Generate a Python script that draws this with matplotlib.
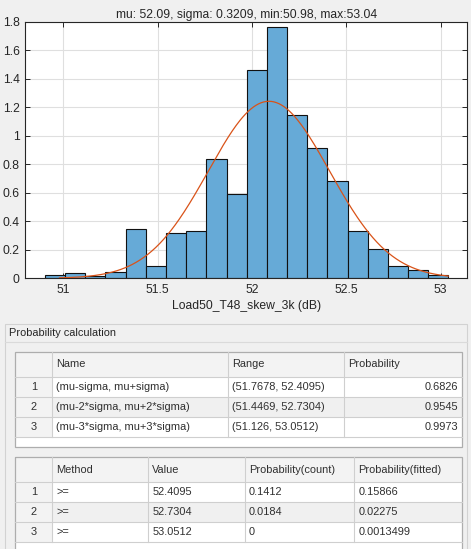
import numpy as np
import matplotlib
matplotlib.use("Agg")
import matplotlib.pyplot as plt
from matplotlib.patches import Rectangle

# ---------------- data ----------------
mu = 52.09
sigma = 0.3209
data_min = 50.98
data_max = 53.04
bin_start = 50.903
bin_width = 0.1069
bin_heights = [0.026, 0.038, 0.014, 0.042, 0.345, 0.089, 0.315, 0.329, 0.836, 0.594,
               1.466, 1.762, 1.148, 0.915, 0.683, 0.333, 0.207, 0.085, 0.056, 0.026]
x_ticks = [51, 51.5, 52, 52.5, 53]
x_tick_labels = ["51", "51.5", "52", "52.5", "53"]
y_ticks = [0, 0.2, 0.4, 0.6, 0.8, 1.0, 1.2, 1.4, 1.6, 1.8]
y_tick_labels = ["0", "0.2", "0.4", "0.6", "0.8", "1", "1.2", "1.4", "1.6", "1.8"]
title_text = "mu: 52.09, sigma: 0.3209, min:50.98, max:53.04"
x_label = "Load50_T48_skew_3k (dB)"

panel_title = "Probability calculation"
t1_headers = ["", "Name", "Range", "Probability"]
t1_index = ["1", "2", "3"]
t1_names = ["(mu-sigma, mu+sigma)", "(mu-2*sigma, mu+2*sigma)", "(mu-3*sigma, mu+3*sigma)"]
t1_ranges = ["(51.7678, 52.4095)", "(51.4469, 52.7304)", "(51.126, 53.0512)"]
t1_probs = ["0.6826", "0.9545", "0.9973"]

t2_headers = ["", "Method", "Value", "Probability(count)", "Probability(fitted)"]
t2_index = ["1", "2", "3"]
t2_methods = [">=", ">=", ">="]
t2_values = ["52.4095", "52.7304", "53.0512"]
t2_pcount = ["0.1412", "0.0184", "0"]
t2_pfitted = ["0.15866", "0.02275", "0.0013499"]

# ---------------- style ----------------
plt.rcParams['font.family'] = ['Liberation Sans', 'DejaVu Sans']
W, H = 471, 549
fig = plt.figure(figsize=(W / 100, H / 100), dpi=100)
fig.patch.set_facecolor('#F0F0F0')

bar_face = '#66AAD7'
line_col = '#D95319'
axis_col = '#262626'
afs = 8.7

# ---------------- histogram axes ----------------
ax_l, ax_r, ax_t, ax_b = 25.3, 467.3, 22.0, 278.3
ax = fig.add_axes([ax_l / W, 1 - ax_b / H, (ax_r - ax_l) / W, (ax_b - ax_t) / H])
ax.set_facecolor('white')
lefts = [bin_start + i * bin_width for i in range(len(bin_heights))]
ax.bar(lefts, bin_heights, width=bin_width, align='edge', color=bar_face,
       edgecolor='#111111', linewidth=0.8, zorder=2)
xs = np.linspace(data_min, data_max, 300)
pdf = np.exp(-0.5 * ((xs - mu) / sigma) ** 2) / (sigma * np.sqrt(2 * np.pi))
ax.plot(xs, pdf, color=line_col, linewidth=0.9, zorder=3)

ax.set_xlim(50.799, 53.141)
ax.set_ylim(0, 1.8)
ax.set_xticks(x_ticks)
ax.set_xticklabels(x_tick_labels)
ax.set_yticks(y_ticks)
ax.set_yticklabels(y_tick_labels)
ax.grid(True, color='#DFDFDF', linewidth=0.8, zorder=0)
ax.set_axisbelow(True)
ax.tick_params(direction='in', length=3.5, width=0.7, colors=axis_col,
               labelsize=afs, top=True, right=True, pad=4, labelcolor='#262626')
for s in ax.spines.values():
    s.set_color(axis_col)
    s.set_linewidth(0.8)
ax.set_title(title_text, fontsize=afs, color='#262626', pad=3)
ax.set_xlabel(x_label, fontsize=afs, color='#262626', labelpad=3)

# ---------------- panel with tables ----------------
ov = fig.add_axes([0, 0, 1, 1], zorder=-1)
ov.set_xlim(0, W)
ov.set_ylim(H, 0)
ov.axis('off')

fs = 7.9
ov.add_patch(Rectangle((5.3, 324), 466.7 - 5.3, H + 10 - 324, facecolor='#F0F0F0',
                       edgecolor='#D2D2D2', linewidth=0.8))
ov.plot([5.3, 466.7], [341.7, 341.7], color='#DADADA', linewidth=0.8)
ov.text(9.3, 333, panel_title, fontsize=fs, va='center', ha='left', color='#262626')

grid_col = '#CFCFCF'
text_col = '#303030'


def draw_table(cols, top, header_h, row_h, n_rows, bottom, headers, columns, aligns):
    x0, x1 = cols[0], cols[-1]
    ov.add_patch(Rectangle((x0, top), x1 - x0, bottom - top, facecolor='white',
                           edgecolor='none'))
    ov.add_patch(Rectangle((x0, top), x1 - x0, header_h, facecolor='#F3F3F3',
                           edgecolor='none'))
    y = top + header_h
    row_edges = [y]
    for r in range(n_rows):
        if r % 2 == 1:
            ov.add_patch(Rectangle((x0, y), x1 - x0, row_h[r], facecolor='#F0F0F0',
                                   edgecolor='none'))
        y += row_h[r]
        row_edges.append(y)
    ov.add_patch(Rectangle((x0, top), cols[1] - x0, row_edges[-1] - top,
                           facecolor='#F3F3F3', edgecolor='none'))
    ov.plot([x0, x1], [top + header_h] * 2, color=grid_col, lw=0.8)
    for ye in row_edges[1:]:
        ov.plot([x0, x1], [ye, ye], color=grid_col, lw=0.8)
    for xc in cols[1:-1]:
        ov.plot([xc, xc], [top, row_edges[-1]], color=grid_col, lw=0.8)
    ov.add_patch(Rectangle((x0, top), x1 - x0, bottom - top, facecolor='none',
                           edgecolor='#ADADAD', linewidth=0.9))
    for c, htxt in enumerate(headers):
        if htxt:
            ov.text(cols[c] + 4, top + header_h / 2, htxt, fontsize=fs, va='center',
                    ha='left', color=text_col)
    for r in range(n_rows):
        yc = (row_edges[r] + row_edges[r + 1]) / 2
        for c, colvals in enumerate(columns):
            a = aligns[c]
            if a == 'center':
                xp = (cols[c] + cols[c + 1]) / 2
            elif a == 'right':
                xp = cols[c + 1] - 4
            else:
                xp = cols[c] + 4
            ov.text(xp, yc, colvals[r], fontsize=fs, va='center', ha=a, color=text_col)


draw_table([15.3, 52.3, 227.7, 344.3, 462.3], 351.7, 25.0, [20.6, 20.0, 19.4], 3, 446.7,
           t1_headers, [t1_index, t1_names, t1_ranges, t1_probs],
           ['center', 'left', 'left', 'right'])
draw_table([15.3, 52.3, 148.3, 245.0, 354.3, 462.3], 457.3, 25.0, [19.4, 20.6, 20.0], 3,
           H + 10, t2_headers, [t2_index, t2_methods, t2_values, t2_pcount, t2_pfitted],
           ['center', 'left', 'left', 'left', 'left'])

fig.savefig('out.png', dpi=100, facecolor=fig.get_facecolor())
